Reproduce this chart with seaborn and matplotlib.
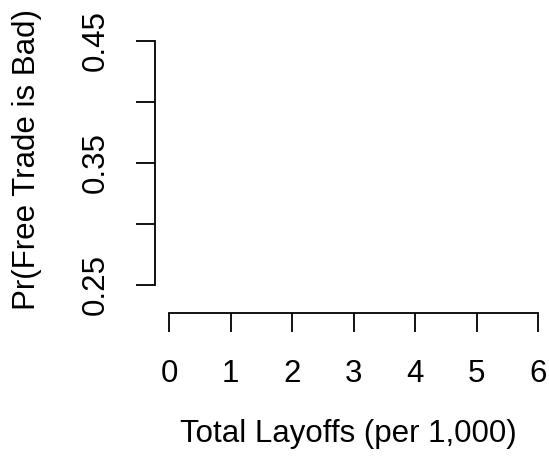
import matplotlib
matplotlib.use("Agg")
import matplotlib.pyplot as plt
import seaborn as sns

# Ejes vacíos: solo marcas y etiquetas
x_ticks = [0, 1, 2, 3, 4, 5, 6]
y_ticks = [0.25, 0.30, 0.35, 0.40, 0.45]
y_tick_labels = ["0.25", "", "0.35", "", "0.45"]
x_label = "Total Layoffs (per 1,000)"
y_label = "Pr(Free Trade is Bad)"

sns.set_style("ticks")
plt.rcParams["font.family"] = ["Liberation Sans", "DejaVu Sans"]

fig = plt.figure(figsize=(5.49, 4.65), dpi=100)
ax = fig.add_axes([155 / 549, (465 - 313) / 465, 386 / 549, 308 / 465])

ax.set_xlim(-0.2325, 6.044)
ax.set_ylim(0.227, 0.4795)
ax.set_xticks(x_ticks)
ax.set_xticklabels([str(v) for v in x_ticks])
ax.set_yticks(y_ticks)
ax.set_yticklabels(y_tick_labels, rotation=90, va="center")

sns.despine(ax=ax, trim=True)
for side in ["left", "bottom"]:
    ax.spines[side].set_linewidth(1.3)
    ax.spines[side].set_color("black")

ax.tick_params(axis="both", direction="out", length=13.7, width=1.3,
               color="black", labelsize=22.5, labelcolor="black")
ax.tick_params(axis="x", pad=19.5)
ax.tick_params(axis="y", pad=18)

ax.set_xlabel(x_label, fontsize=22.5, color="black")
ax.set_ylabel(y_label, fontsize=22.5, color="black")
ax.xaxis.set_label_coords(0.5, -0.345)
ax.yaxis.set_label_coords(-0.293, 0.5)

fig.savefig("out.png", dpi=100, facecolor="white")
